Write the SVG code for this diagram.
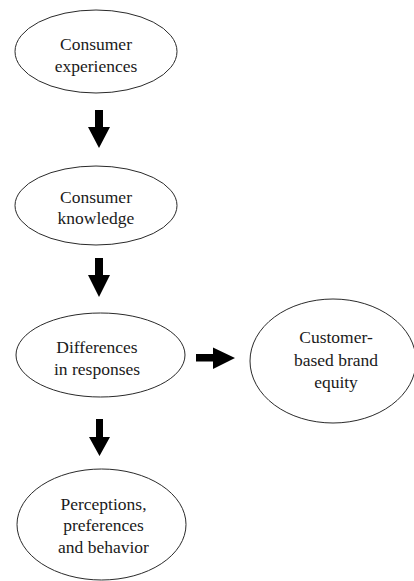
<svg xmlns="http://www.w3.org/2000/svg" width="414" height="581" viewBox="0 0 414 581">
  <style>
    .node ellipse { fill: #ffffff; stroke: #2a2a2a; stroke-width: 1; }
    .node text { font-family: "Liberation Serif", "Times New Roman", serif; font-size: 17.5px; fill: #1a1a1a; text-anchor: middle; }
    .arrow { fill: #000000; }
  </style>
  <rect width="414" height="581" fill="#ffffff"/>

  <g id="consumer-experiences" class="node">
    <ellipse cx="96" cy="51.5" rx="81" ry="41.5"/>
    <text x="96" y="50">Consumer</text>
    <text x="96" y="72">experiences</text>
  </g>

  <g id="consumer-knowledge" class="node">
    <ellipse cx="96" cy="205.5" rx="81" ry="39.5"/>
    <text x="96" y="203">Consumer</text>
    <text x="96" y="224">knowledge</text>
  </g>

  <g id="differences-in-responses" class="node">
    <ellipse cx="100.5" cy="355" rx="84.5" ry="42"/>
    <text x="97" y="353">Differences</text>
    <text x="97" y="375">in responses</text>
  </g>

  <g id="customer-based-brand-equity" class="node">
    <ellipse cx="333" cy="361" rx="83" ry="62"/>
    <text x="336" y="343">Customer-</text>
    <text x="336" y="366">based brand</text>
    <text x="336" y="388">equity</text>
  </g>

  <g id="perceptions-preferences-behavior" class="node">
    <ellipse cx="101.5" cy="524.5" rx="84.5" ry="55.5"/>
    <text x="103.5" y="510">Perceptions,</text>
    <text x="103.5" y="531">preferences</text>
    <text x="103.5" y="553">and behavior</text>
  </g>

  <g id="connectors">
    <!-- block arrows: shaft plus triangular head -->
    <polygon class="arrow" points="95,110 103,110 103,127 110,127 99,148 88,127 95,127"/>
    <polygon class="arrow" points="95,258 103,258 103,275 110,275 99,297 88,275 95,275"/>
    <polygon class="arrow" points="96,419 103,419 103,437 110,437 99.5,456 89,437 96,437"/>
    <polygon class="arrow" points="196,354 213,354 213,347.5 235,358 213,369 213,361.5 196,361.5"/>
  </g>
</svg>
